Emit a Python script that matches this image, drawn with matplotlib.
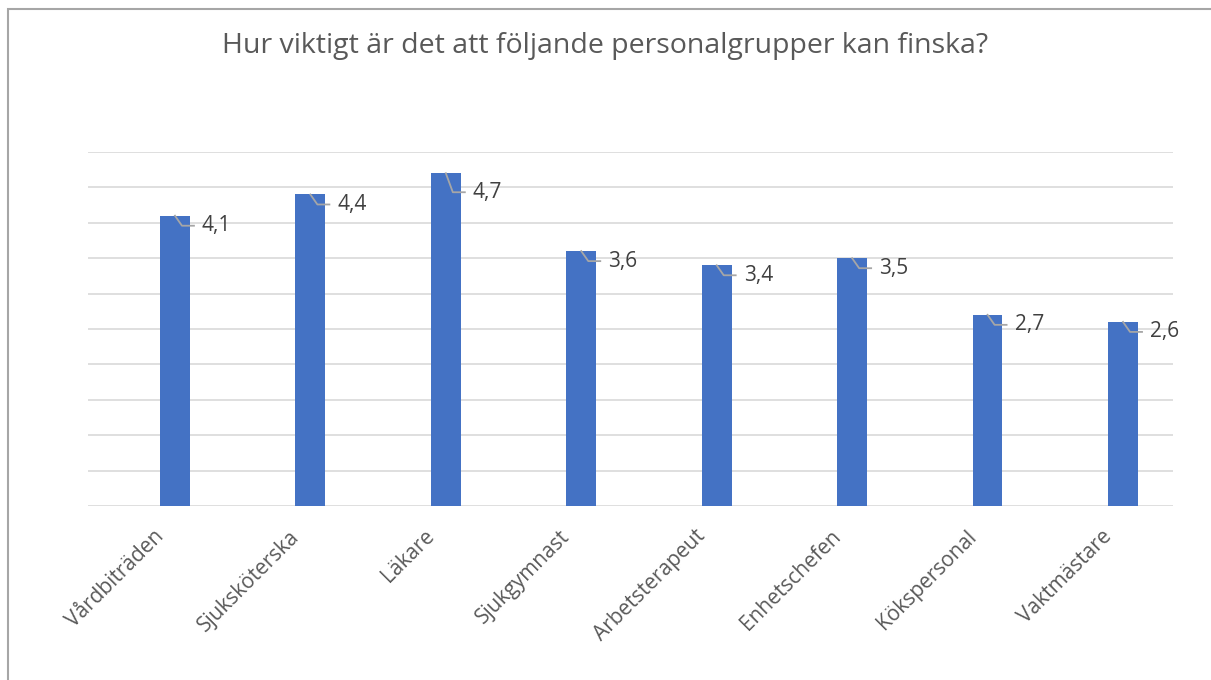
import matplotlib
matplotlib.use("Agg")
import matplotlib.pyplot as plt
from matplotlib.patches import Rectangle
from matplotlib.transforms import IdentityTransform, ScaledTranslation
import numpy as np

categories = ["Vårdbiträden", "Sjuksköterska", "Läkare", "Sjukgymnast",
              "Arbetsterapeut", "Enhetschefen", "Kökspersonal", "Vaktmästare"]
values = [4.1, 4.4, 4.7, 3.6, 3.4, 3.5, 2.7, 2.6]
value_labels = ["4,1", "4,4", "4,7", "3,6", "3,4", "3,5", "2,7", "2,6"]
title = "Hur viktigt är det att följande personalgrupper kan finska?"

plt.rcParams['font.family'] = ['Open Sans', 'DejaVu Sans']
TXT = "#595959"

fig = plt.figure(figsize=(12.11, 6.80), dpi=100)
fig.patches.append(Rectangle((8/1211, -0.1), 1.2, 1 - 9/680 + 0.1, transform=fig.transFigure,
                             fill=False, edgecolor="#A6A6A6", linewidth=1.5))
ax = fig.add_axes([88/1211, 1 - 506/680, (1173-88)/1211, (506-152)/680])
x = np.arange(len(categories))
ax.bar(x, values, width=0.22, color="#4472C4", zorder=3)
ax.set_xlim(-0.642, len(categories) - 1 + 0.369)
ax.set_ylim(0, 5)
ax.set_yticks(np.arange(0, 5.01, 0.5))
ax.yaxis.grid(True, color="#D9D9D9", linewidth=1.2, zorder=0)
ax.tick_params(axis='y', left=False, labelleft=False)
ax.tick_params(axis='x', bottom=False, pad=8)
for s in ax.spines.values():
    s.set_visible(False)
ax.set_xticks(x)
ax.set_xticklabels(categories, rotation=45, ha='right', rotation_mode='anchor',
                   fontsize=15, color=TXT)
shift = ScaledTranslation(-22/100, -4/100, fig.dpi_scale_trans)
for t in ax.get_xticklabels():
    t.set_transform(t.get_transform() + shift)

fig.text(0.5, 1 - 46/680, title, ha='center', va='center', fontsize=20.5, color=TXT)

fig.canvas.draw()
for xi, v, lab in zip(x, values, value_labels):
    px, py = ax.transData.transform((xi, v))
    dy = 19 if v >= 4.6 else 10
    xs = [px, px + 7, px + 19]
    ys = [py, py - dy, py - dy]
    ax.add_line(plt.Line2D(xs, ys, transform=IdentityTransform(), color="#A6A6A6",
                           linewidth=1.3, zorder=4))
    ax.text(px + 27, py - dy, lab, transform=IdentityTransform(), ha='left', va='center',
            fontsize=15, color="#404040", zorder=5)

fig.savefig("out.png", dpi=100)
